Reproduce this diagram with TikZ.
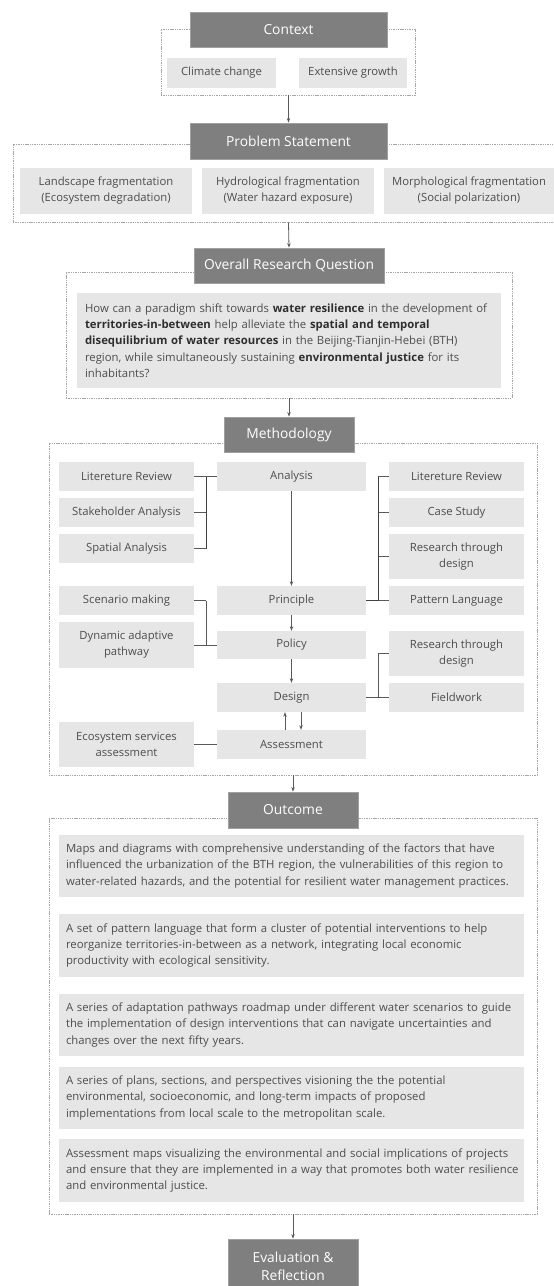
\documentclass[tikz,border=0pt]{standalone}
\usepackage{fontspec}
\setmainfont{Open Sans}
\usetikzlibrary{arrows.meta}
\hyphenpenalty=10000
\exhyphenpenalty=10000
\hfuzz=20pt
\definecolor{hdr}{HTML}{7F7F7F}
\definecolor{hdrline}{HTML}{A0A0A0}
\definecolor{boxfill}{HTML}{E6E6E6}
\definecolor{txt}{HTML}{4D4D4D}
\definecolor{bold}{HTML}{2E2E2E}
\definecolor{dash}{HTML}{A6A6A6}
\definecolor{conn}{HTML}{595959}
\definecolor{brk}{HTML}{404040}
\tikzset{
  hdrbox/.style={fill=hdr, draw=hdrline, line width=0.8pt, text=white, inner sep=0pt,
    font=\fontsize{13.8}{17}\selectfont, align=center},
  itembox/.style={fill=boxfill, draw=none, text=txt, inner sep=0pt,
    font=\fontsize{11.3}{16}\selectfont, align=center},
  parbox/.style={fill=boxfill, draw=none, text=txt, inner xsep=7pt, inner ysep=8pt,
    font=\fontsize{11.35}{16.3}\selectfont, align=left},
  groupbox/.style={draw=dash, line width=0.7pt, dash pattern=on 1.4pt off 0.9pt, inner sep=0pt},
  arr/.style={draw=conn, line width=0.8pt, -{Stealth[length=4.5pt,width=3.4pt]}},
  stub/.style={draw=conn, line width=0.8pt},
  bracket/.style={draw=brk, line width=0.9pt},
}
\newcommand{\bt}[1]{\textbf{\color{bold}#1}}
\begin{document}
\begin{tikzpicture}[x=1pt,y=-1pt]
\useasboundingbox (0,0) rectangle (554,1286);
\fill[white] (0,0) rectangle (554,1286);

% ---------- group frames ----------
\node[groupbox, minimum width=254, minimum height=66] (ctxg) at (288,62) {};
\node[groupbox, minimum width=560, minimum height=78] (probg) at (293,183) {};
\node[groupbox, minimum width=446, minimum height=126] (orqg) at (289,335) {};
\node[groupbox, minimum width=488, minimum height=332] (methg) at (293,609) {};
\node[groupbox, minimum width=488, minimum height=396] (outg) at (293,1016) {};

% ---------- Context ----------
\node[hdrbox, minimum width=197, minimum height=35] (ctx) at (288.5,29.5) {Context};
\node[itembox, minimum width=109, minimum height=30] (clim) at (221.5,73) {Climate change};
\node[itembox, minimum width=108, minimum height=30] (ext) at (353,73) {Extensive growth};

% ---------- Problem statement ----------
\node[hdrbox, minimum width=197, minimum height=36] (prob) at (288.5,141) {Problem Statement};
\node[itembox, minimum width=172, minimum height=46] (land) at (106,191) {Landscape fragmentation\\(Ecosystem degradation)};
\node[itembox, minimum width=172, minimum height=46] (hydro) at (288,191) {Hydrological fragmentation\\(Water hazard exposure)};
\node[itembox, minimum width=170, minimum height=46] (morph) at (469,191) {Morphological fragmentation\\(Social polarization)};

% ---------- Overall research question ----------
\node[parbox, inner xsep=8pt, text width=408, minimum height=95] (rq) at (289,340.5) {How can a paradigm shift towards \bt{water resilience} in the development of\\
\bt{territories-in-between} help alleviate the \bt{spatial and temporal}\\
\bt{disequilibrium of water resources} in the Beijing-Tianjin-Hebei (BTH)\\
region, while simultaneously sustaining \bt{environmental justice} for its\\
inhabitants?};
\node[hdrbox, minimum width=190, minimum height=35] (orq) at (289,265.5) {Overall Research Question};

% ---------- Methodology ----------
\node[hdrbox, minimum width=130, minimum height=35] (meth) at (289,434.5) {Methodology};
% left column
\node[itembox, minimum width=135, minimum height=29] (lra) at (126.5,476.5) {Litereture Review};
\node[itembox, minimum width=135, minimum height=29] (stake) at (126.5,512.5) {Stakeholder Analysis};
\node[itembox, minimum width=135, minimum height=29] (spat) at (126.5,548.5) {Spatial Analysis};
\node[itembox, minimum width=135, minimum height=29] (scen) at (126.5,600.5) {Scenario making};
\node[itembox, minimum width=135, minimum height=46] (dyn) at (126.5,645) {Dynamic adaptive\\pathway};
\node[itembox, minimum width=135, minimum height=45] (eco) at (126.5,744.5) {Ecosystem services\\assessment};
% centre column
\node[itembox, minimum width=149, minimum height=29] (ana) at (291.5,476.5) {Analysis};
\node[itembox, minimum width=149, minimum height=29] (prin) at (291.5,600.5) {Principle};
\node[itembox, minimum width=149, minimum height=28] (pol) at (291.5,645) {Policy};
\node[itembox, minimum width=149, minimum height=29] (des) at (291.5,697.5) {Design};
\node[itembox, minimum width=149, minimum height=29] (ass) at (291.5,744.5) {Assessment};
% right column
\node[itembox, minimum width=135, minimum height=29] (lrb) at (456.5,476.5) {Litereture Review};
\node[itembox, minimum width=135, minimum height=29] (case) at (456.5,512.5) {Case Study};
\node[itembox, minimum width=135, minimum height=45] (rtda) at (456.5,556.5) {Research through\\design};
\node[itembox, minimum width=135, minimum height=29] (pat) at (456.5,600.5) {Pattern Language};
\node[itembox, minimum width=135, minimum height=45] (rtdb) at (456.5,653.5) {Research through\\design};
\node[itembox, minimum width=135, minimum height=29] (field) at (456.5,697.5) {Fieldwork};

% bracket joints
\coordinate (lj1) at (206,476.5);
\coordinate (lj2) at (206,600.5);
\coordinate (rj1) at (378,600.5);
\coordinate (rj2) at (378,697.5);

% left upper bracket
\draw[stub] (lra.east) -- (ana.west);
\draw[stub] (stake.east) -- (stake.east -| lj1);
\draw[stub] (spat.east) -- (spat.east -| lj1);
\draw[bracket] (lj1) -- (spat.east -| lj1);
% right upper bracket
\draw[stub] (prin.east) -- (pat.west);
\draw[stub] (lrb.west) -- (lrb.west -| rj1);
\draw[stub] (case.west) -- (case.west -| rj1);
\draw[stub] (rtda.west) -- (rtda.west -| rj1);
\draw[bracket] (rj1) -- (lrb.west -| rj1);
\draw[bracket] (prin.east) -- (rj1);
% left lower bracket
\draw[stub] (dyn.east) -- (pol.west);
\draw[stub] (scen.east) -- (lj2);
\draw[stub] (lj2) -- (pol.west -| lj2);
% right lower bracket
\draw[stub] (des.east) -- (field.west);
\draw[stub] (rtdb.west) -- (rtdb.west -| rj2);
\draw[stub] (rtdb.west -| rj2) -- (rj2);
% ecosystem
\draw[stub] (eco.east) -- (ass.west);

% vertical flow
\draw[arr] (ana.south) -- (prin.north);
\draw[arr] (prin.south) -- (pol.north);
\draw[arr] (pol.south) -- (des.north);
\draw[arr] ([xshift=-6.5pt]ass.north) -- ([xshift=-6.5pt]des.south);
\draw[arr] ([xshift=9.5pt]des.south) -- ([xshift=9.5pt]ass.north);

% ---------- Outcome ----------
\node[hdrbox, minimum width=130, minimum height=36] (out) at (293,810) {Outcome};
\node[parbox, text width=451, minimum width=465, minimum height=62] (o1) at (291.5,866) {\mbox{Maps and diagrams with comprehensive understanding of the factors that have}\\
\mbox{influenced the urbanization of the BTH region, the vulnerabilities of this region to}\\
\mbox{water-related hazards, and the potential for resilient water management practices.}};
\node[parbox, text width=451, minimum width=465, minimum height=63] (o2) at (291.5,945.5) {\mbox{A set of pattern language that form a cluster of potential interventions to help}\\
\mbox{reorganize territories-in-between as a network, integrating local economic}\\
\mbox{productivity with ecological sensitivity.}};
\node[parbox, text width=451, minimum width=465, minimum height=62] (o3) at (291.5,1025) {\mbox{A series of adaptation pathways roadmap under different water scenarios to guide}\\
\mbox{the implementation of design interventions that can navigate uncertainties and}\\
\mbox{changes over the next fifty years.}};
\node[parbox, text width=451, minimum width=465, minimum height=62] (o4) at (291.5,1098) {\mbox{A series of plans, sections, and perspectives visioning the the potential}\\
\mbox{environmental, socioeconomic, and long-term impacts of proposed}\\
\mbox{implementations from local scale to the metropolitan scale.}};
\node[parbox, text width=451, minimum width=465, minimum height=63] (o5) at (291.5,1170.5) {\mbox{Assessment maps visualizing the environmental and social implications of projects}\\
\mbox{and ensure that they are implemented in a way that promotes both water resilience}\\
\mbox{and environmental justice.}};

% ---------- Evaluation ----------
\node[hdrbox, minimum width=130, minimum height=54, font=\fontsize{13.8}{18}\selectfont] (eval) at (293,1266) {Evaluation \&\\Reflection};

% ---------- main connectors ----------
\draw[arr] (ctxg.south -| ctx.south) -- (prob.north);
\draw[arr] (probg.south -| prob.south) -- (orq.north);
\draw[arr] (orqg.south) -- (meth.north);
\draw[arr] (methg.south -| out.north) -- (out.north);
\draw[arr] (outg.south) -- (eval.north);
\end{tikzpicture}
\end{document}
